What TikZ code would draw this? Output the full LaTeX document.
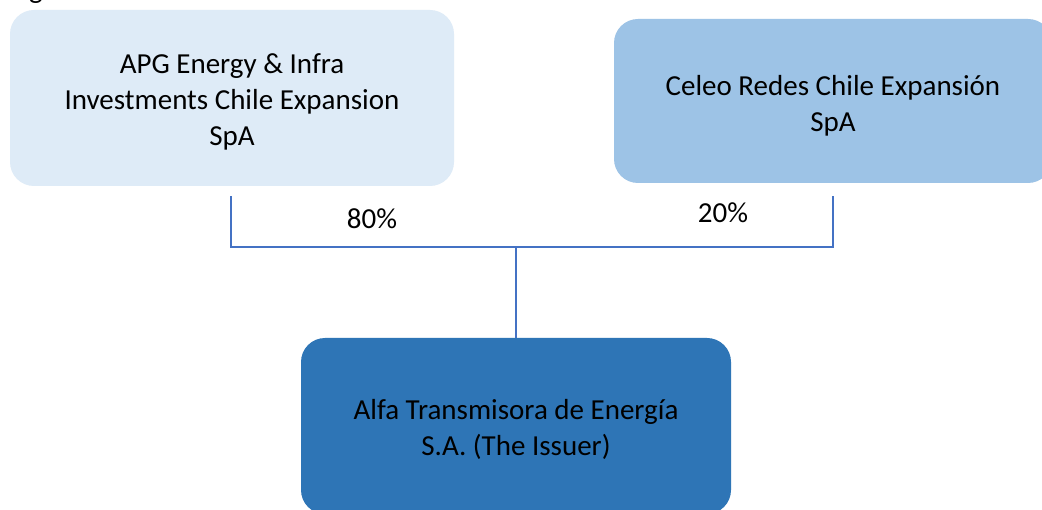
\documentclass[tikz,border=0pt]{standalone}
\usepackage{fontspec}
\setmainfont{Carlito}
\definecolor{boxlight}{HTML}{DEEBF7}
\definecolor{boxmid}{HTML}{9DC3E6}
\definecolor{boxdark}{HTML}{2E75B6}
\definecolor{linecol}{HTML}{4472C4}
\begin{document}
\begin{tikzpicture}[x=1pt,y=-1pt,
  entity/.style={rounded corners=24pt, inner sep=0pt},
  txt/.style={align=center, inner sep=0pt,
    font=\fontsize{29}{36}\selectfont, text=black},
  pct/.style={font=\fontsize{29}{36}\selectfont, inner sep=0pt},
  conn/.style={draw=linecol, line width=2pt}]
\clip (0,0) rectangle (1042,510);
\fill[white] (0,0) rectangle (1042,510);
\node[font=\fontsize{29}{36}\selectfont, anchor=base, inner sep=0pt] (cut) at (36,-1) {g};
\node[entity, fill=boxlight, minimum width=444pt, minimum height=176pt] (b1) at (232,98) {};
\node[txt] (t1) at ([yshift=-4pt]b1.center) {APG Energy \& Infra\\Investments Chile Expansion\\SpA};
\node[entity, fill=boxmid, minimum width=438pt, minimum height=164pt] (b2) at (833,101) {};
\node[txt] (t2) at ([yshift=-5pt]b2.center) {Celeo Redes Chile Expansión\\SpA};
\node[entity, fill=boxdark, minimum width=430pt, minimum height=176pt] (b3) at (516,426) {};
\node[txt] (t3) at ([yshift=-3pt]b3.center) {Alfa Transmisora de Energía\\S.A. (The Issuer)};
\coordinate (jl) at (231,247);
\coordinate (jr) at (833,247);
\coordinate (jm) at (516,247);
\draw[conn] ([yshift=-10pt]b1.south -| jl) -- (jl) -- (jr) -- ([yshift=-13pt]b2.south -| jr);
\draw[conn] (jm) -- (b3.north -| jm);
\node[pct] (p80) at (372,219) {80\%};
\node[pct] (p20) at (723,213) {20\%};
\end{tikzpicture}
\end{document}
